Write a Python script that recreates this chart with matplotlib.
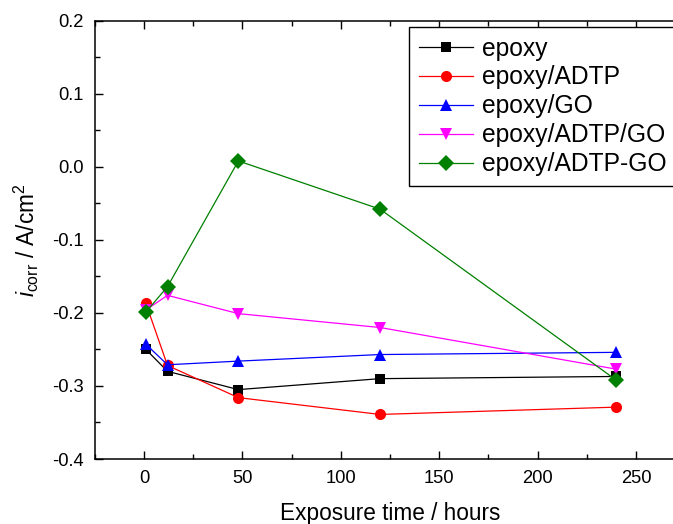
import numpy as np
import matplotlib
matplotlib.use('Agg')
import matplotlib.pyplot as plt
from matplotlib.ticker import MultipleLocator

plt.rcParams['font.family'] = ['Liberation Sans', 'DejaVu Sans']
plt.rcParams['mathtext.fontset'] = 'custom'
plt.rcParams['mathtext.rm'] = 'Liberation Sans'
plt.rcParams['mathtext.it'] = 'Liberation Sans:italic'

# exposure time (hours)
hours = [1, 12, 48, 120, 240]

epoxy = [-0.250, -0.280, -0.305, -0.290, -0.287]
epoxy_adtp = [-0.187, -0.272, -0.316, -0.339, -0.329]
epoxy_go = [-0.243, -0.271, -0.266, -0.257, -0.254]
epoxy_adtp_go = [-0.196, -0.176, -0.201, -0.220, -0.277]
epoxy_adtp_go2 = [-0.199, -0.164, 0.008, -0.058, -0.292]

labels = ['epoxy', 'epoxy/ADTP', 'epoxy/GO', 'epoxy/ADTP/GO', 'epoxy/ADTP-GO']
colors = ['black', 'red', 'blue', 'magenta', 'green']
markers = ['s', 'o', '^', 'v', 'D']
sizes = [7.5, 8, 9, 9, 8]
series = [epoxy, epoxy_adtp, epoxy_go, epoxy_adtp_go, epoxy_adtp_go2]

fig = plt.figure(figsize=(6.73, 5.24), dpi=100)
ax = fig.add_axes([94.7/673, 65/524, 590.4/673, 438.3/524])

for y, lab, c, m, ms in zip(series, labels, colors, markers, sizes):
    ax.plot(hours, y, color=c, marker=m, markersize=ms, linewidth=0.9, label=lab,
            markeredgewidth=0)

ax.set_xlim(-25, 275)
ax.set_ylim(-0.4, 0.2)
ax.xaxis.set_major_locator(MultipleLocator(50))
ax.xaxis.set_minor_locator(MultipleLocator(25))
ax.yaxis.set_major_locator(MultipleLocator(0.1))
ax.yaxis.set_minor_locator(MultipleLocator(0.05))
ax.yaxis.set_major_formatter(plt.FuncFormatter(lambda v, p: '%.1f' % v))
ax.tick_params(which='both', direction='in', top=True, right=True, labelsize=13.2)
ax.tick_params(which='major', length=6, width=1.0, pad=8)
ax.tick_params(which='minor', length=3.5, width=1.0)
for s in ax.spines.values():
    s.set_linewidth(1.1)

ax.set_xlabel('Exposure time / hours', fontsize=16.3, labelpad=11)
ax.set_ylabel(r'$i_{\rm corr}$ / A/cm$^2$', fontsize=16.3, labelpad=8)

leg = ax.legend(loc='upper left', bbox_to_anchor=(409.3/673, 1 - 26.7/524),
                bbox_transform=fig.transFigure, borderaxespad=0, fontsize=17.7,
                frameon=True, fancybox=False, edgecolor='black', framealpha=1,
                handlelength=2.2, handletextpad=0.35, labelspacing=0.2,
                borderpad=0.4)
leg.get_frame().set_linewidth(1.0)

fig.savefig('out.png', dpi=100)
